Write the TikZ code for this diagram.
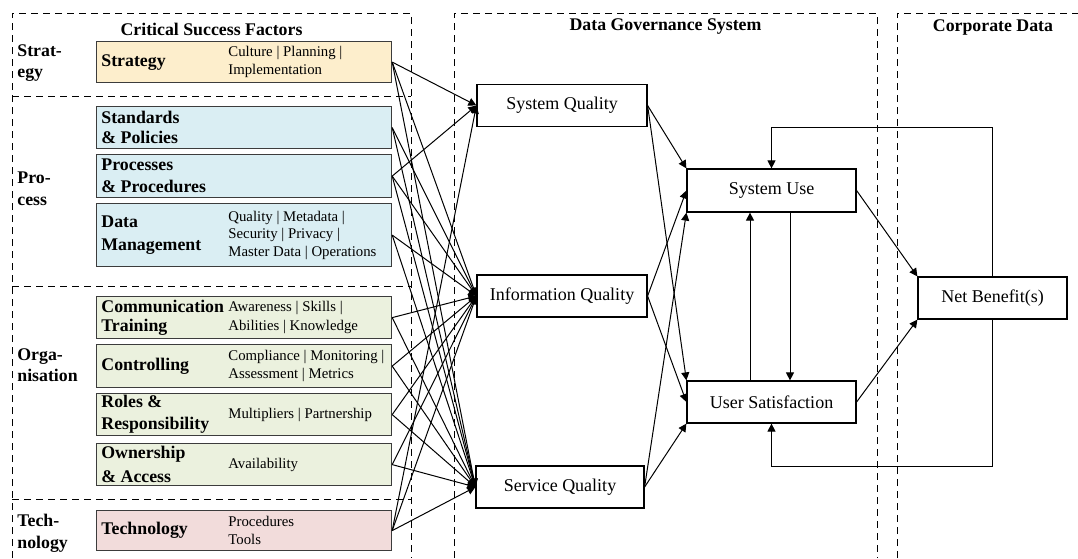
\documentclass[tikz,border=0pt]{standalone}
\usepackage{fontspec}
\setmainfont{Liberation Serif}
\usetikzlibrary{arrows.meta,calc}
\definecolor{cstrat}{RGB}{253,238,204}
\definecolor{cproc}{RGB}{218,238,243}
\definecolor{corg}{RGB}{235,241,222}
\definecolor{ctech}{RGB}{242,220,219}
\definecolor{bord}{RGB}{60,60,60}
\begin{document}
\begin{tikzpicture}[x=0.5pt,y=-0.5pt,
  fbox/.style={draw=bord,line width=0.6pt,minimum width=147.5pt,inner sep=0pt,anchor=north west},
  qbox/.style={draw=black,line width=0.6pt,fill=white,minimum width=85pt,minimum height=21pt,inner sep=0pt,font=\fontsize{9}{11}\selectfont},
  lbl/.style={font=\fontsize{8.9}{10.5}\selectfont\bfseries,align=left,inner sep=0pt,anchor=west},
  sub/.style={font=\fontsize{7.4}{9.3}\selectfont,align=left,inner sep=0pt,anchor=west},
  ttl/.style={font=\fontsize{8.9}{10.5}\selectfont\bfseries,inner sep=0pt},
  grp/.style={font=\fontsize{8.9}{10.5}\selectfont\bfseries,align=left,inner sep=0pt,anchor=west},
  dsh/.style={line width=0.5pt,dash pattern=on 3.5pt off 2.5pt},
  arr/.style={-{Triangle[length=4pt,width=4pt]},line width=0.5pt},
]
\useasboundingbox (0,0) rectangle (1078,558);

% dashed frames
\draw[dsh] (12,558) -- (12,13) -- (411,13) -- (411,558);
\draw[dsh] (12,96) -- (411,96);
\draw[dsh] (12,286) -- (411,286);
\draw[dsh] (12,499) -- (411,499);
\draw[dsh] (454,558) -- (454,13) -- (877,13) -- (877,558);
\draw[dsh] (897,558) -- (897,13) -- (1078,13);

% titles
\node[ttl] (t1) at (211.5,29) {Critical Success Factors};
\node[ttl] (t2) at (665.5,27) {Data Governance System};
\node[ttl] (t3) at (993,27) {Corporate Data};

% group labels
\node[grp] (g1) at (17,63) {Strat-\\egy};
\node[grp,font=\fontsize{8.9}{11}\selectfont\bfseries] (g2) at (17,189) {Pro-\\cess};
\node[grp] (g3) at (17,365) {Orga-\\nisation};
\node[grp,font=\fontsize{8.9}{11}\selectfont\bfseries] (g4) at (17,533) {Tech-\\nology};

% factor boxes
\node[fbox,fill=cstrat,minimum height=20.5pt] (strat) at (96,41) {};
\node[lbl] (strat-l) at ([xshift=2.5pt]strat.west) {Strategy};
\node[sub] (strat-s) at ([xshift=66pt]strat.west) {Culture | Planning |\\Implementation};

\node[fbox,fill=cproc,minimum height=21pt] (stan) at (96,106) {};
\node[lbl,font=\fontsize{8.9}{10}\selectfont\bfseries] (stan-l) at ([xshift=2.5pt]stan.west) {Standards\\\& Policies};

\node[fbox,fill=cproc,minimum height=21.5pt] (proc) at (96,154) {};
\node[lbl,font=\fontsize{8.9}{11}\selectfont\bfseries] (proc-l) at ([xshift=2.5pt]proc.west) {Processes\\\& Procedures};

\node[fbox,fill=cproc,minimum height=31.5pt] (dm) at (96,203) {};
\node[lbl,font=\fontsize{8.9}{11.5}\selectfont\bfseries] (dm-l) at ([xshift=2.5pt]dm.west) {Data\\Management};
\node[sub,font=\fontsize{7.4}{8.8}\selectfont] (dm-s) at ([xshift=66pt]dm.west) {Quality | Metadata |\\Security | Privacy |\\Master Data | Operations};

\node[fbox,fill=corg,minimum height=21pt] (comm) at (96,296) {};
\node[lbl,font=\fontsize{8.9}{9.8}\selectfont\bfseries] (comm-l) at ([xshift=2.5pt]comm.west) {Communication\\Training};
\node[sub] (comm-s) at ([xshift=66pt]comm.west) {Awareness | Skills |\\Abilities | Knowledge};

\node[fbox,fill=corg,minimum height=21.5pt] (ctrl) at (96,344) {};
\node[lbl] (ctrl-l) at ([xshift=2.5pt]ctrl.west) {Controlling};
\node[sub] (ctrl-s) at ([xshift=66pt]ctrl.west) {Compliance | Monitoring |\\Assessment | Metrics};

\node[fbox,fill=corg,minimum height=21pt] (roles) at (96,393) {};
\node[lbl,font=\fontsize{8.9}{11}\selectfont\bfseries] (roles-l) at ([xshift=2.5pt]roles.west) {Roles \&\\Responsibility};
\node[sub] (roles-s) at ([xshift=66pt]roles.west) {Multipliers | Partnership};

\node[fbox,fill=corg,minimum height=21pt] (own) at (96,443) {};
\node[lbl,font=\fontsize{8.9}{12}\selectfont\bfseries] (own-l) at ([xshift=2.5pt]own.west) {Ownership\\\& Access};
\node[sub] (own-s) at ([xshift=66pt]own.west) {Availability};

\node[fbox,fill=ctech,minimum height=20pt] (tech) at (96,510) {};
\node[lbl] (tech-l) at ([xshift=2.5pt]tech.west) {Technology};
\node[sub] (tech-s) at ([xshift=66pt]tech.west) {Procedures\\Tools};

% quality boxes
\node[qbox] (sysq) at (562,105.5) {System Quality};
\node[qbox] (infq) at (562,296) {Information Quality};
\node[qbox,minimum width=84pt] (serq) at (560,487) {Service Quality};

\node[qbox,minimum width=84.5pt,minimum height=21.5pt] (su) at (771.5,190.5) {System Use};
\node[qbox,minimum width=84.5pt,minimum height=21pt] (us) at (771.5,402) {User Satisfaction};
\node[qbox,minimum width=74.5pt,minimum height=21pt] (nb) at (992.5,298) {Net Benefit(s)};

% factor -> quality
\foreach \f in {strat,proc,tech} \draw[arr] (\f.east) -- (sysq.west);
\foreach \f in {strat,stan,proc,dm,comm,ctrl,roles,own,tech} {
  \draw[arr] (\f.east) -- (infq.west);
  \draw[arr] (\f.east) -- (serq.west);
}

% quality -> use / satisfaction
\draw[arr] (sysq.east) -- (su.north west);
\draw[arr] (sysq.east) -- (us.north west);
\draw[arr] (infq.east) -- (su.west);
\draw[arr] (infq.east) -- (us.west);
\draw[arr] (serq.east) -- (su.south west);
\draw[arr] (serq.east) -- (us.south west);

% use <-> satisfaction
\draw[arr] ([xshift=-10.75pt]us.north) -- ([xshift=-10.75pt]su.south);
\draw[arr] ([xshift=9.25pt]su.south) -- ([xshift=9.25pt]us.north);

% to net benefits
\draw[arr] (su.east) -- (nb.north west);
\draw[arr] (us.east) -- (nb.south west);

% feedback loops
\coordinate (fbt) at (771.5,127);
\coordinate (fbb) at (771.5,466);
\draw[arr] (nb.north) |- (fbt) -- (su.north);
\draw[arr] (nb.south) |- (fbb) -- (us.south);
\end{tikzpicture}
\end{document}
